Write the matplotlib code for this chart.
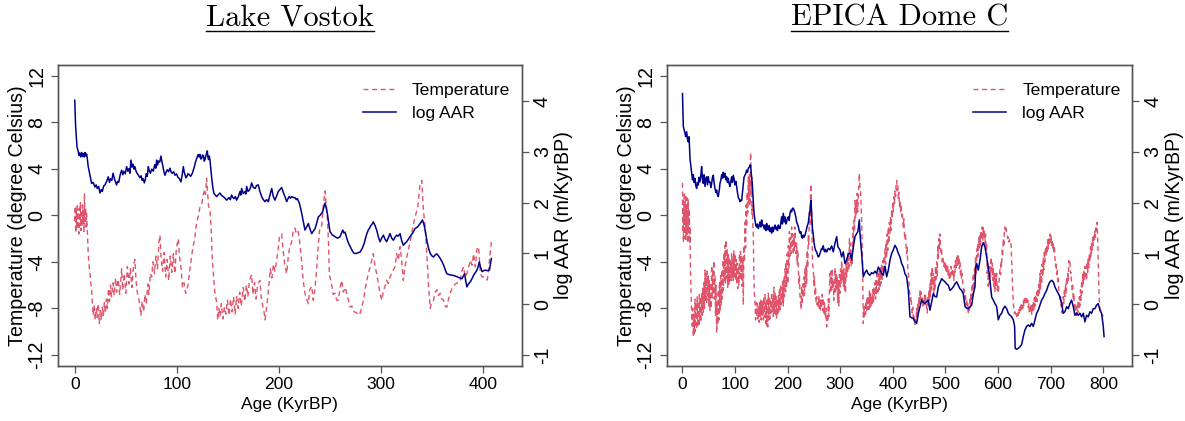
import matplotlib
matplotlib.use("Agg")
import matplotlib.pyplot as plt
from matplotlib.lines import Line2D

# ---------------- data (age in KyrBP) ----------------
vostok_temperature = [
    (0, -0.5), (0.5, 0.8), (1, -1.5), (1.5, 0.5), (2, -1.2), (2.5, 1.0), (3, -0.8), (3.5, 0.3),
    (4, -1.6), (4.5, 0.6), (5, -0.9), (5.5, 1.1), (6, -1.3), (6.5, 0.2), (7, -1.0), (7.5, 0.9),
    (8, -0.7), (8.5, 0.4), (9, -1.4), (9.5, 1.9), (10, -0.5), (10.5, 0.7), (11, -1.0), (11.5, 0.3),
    (12, -0.6), (13.2, -3.3), (13.8, -4.1), (14.9, -5.0), (16.5, -6.5), (17.2, -7.5), (18.1, -8.6),
    (19, -7.8), (20, -9.0), (21, -8.0), (22, -8.8), (23, -7.6), (24, -9.3), (25, -8.2), (26, -9.0),
    (27, -7.9), (28, -8.6), (29, -7.5), (30, -8.4), (31, -7.2), (32, -8.0), (33, -6.3), (34, -7.4),
    (35, -6.0), (36, -7.0), (37.5, -5.8), (38.5, -6.9), (40, -5.4), (41, -6.6), (42.5, -5.5),
    (44, -6.8), (45.9, -4.6), (47, -6.4), (48.5, -5.0), (50, -6.7), (51.5, -4.4), (53, -5.9),
    (54.5, -4.6), (56, -6.2), (57.5, -4.3), (58.9, -3.8), (60, -5.6), (61, -6.5), (62.2, -7.0),
    (63.5, -7.6), (64.8, -8.6), (66, -7.4), (67.5, -8.3), (68.7, -6.8), (70, -7.6), (71.5, -5.9),
    (72.5, -6.8), (74, -5.0), (75.3, -5.3), (76.5, -4.0), (78, -5.0), (79.5, -3.5), (81, -4.6),
    (82.5, -2.2), (83.4, -1.7), (84.5, -3.6), (86, -4.8), (87.5, -3.2), (89, -5.3), (90.5, -3.8),
    (92, -5.6), (93.5, -3.5), (95, -4.9), (96.5, -3.3), (98, -5.0), (99.5, -2.8), (101.4, -2.0),
    (102.5, -3.5), (104, -4.5), (105.5, -6.2), (107, -5.8), (108.5, -6.7), (109.6, -6.5),
    (111, -5.9), (112.5, -4.8), (114.4, -3.5), (116, -2.6), (117.5, -2.0), (119, -0.8),
    (120.5, -0.2), (122.6, 0.7), (124.2, 0.9), (125.5, 1.6), (127, 2.2), (128, 1.8), (129.1, 3.2),
    (130, 2.0), (131, 0.8), (132.4, 0.4), (133.5, -1.0), (134.5, -3.5), (135.7, -5.0), (137, -6.5),
    (138.9, -7.5), (140, -9.0), (141, -8.0), (142.2, -8.7), (143.5, -7.6), (145, -8.9),
    (146.5, -7.9), (148, -8.5), (149.5, -7.3), (151, -8.6), (152.5, -7.2), (154, -8.3),
    (155.5, -7.0), (157, -8.5), (158.5, -7.0), (160, -8.0), (161.5, -6.6), (163, -7.8),
    (165, -6.2), (166.5, -7.4), (168, -6.0), (169.5, -7.0), (171, -5.6), (173.2, -5.1),
    (174.5, -6.8), (176, -5.8), (177.5, -7.2), (179, -6.0), (181.3, -5.6), (182.5, -7.0),
    (184, -7.8), (185.5, -8.4), (186.3, -9.0), (187.5, -8.2), (189, -7.0), (190.5, -5.6),
    (191.5, -4.6), (193, -5.4), (194.5, -4.2), (196, -4.8), (197.6, -3.9), (199, -3.0),
    (200.5, -1.8), (202.6, -1.6), (204, -3.0), (205.8, -4.4), (207.5, -5.0), (209, -3.6),
    (210.5, -2.7), (212.4, -2.3), (214, -1.3), (215.6, -1.1), (217, -1.6), (218.9, -1.4),
    (220.5, -2.5), (222.2, -4.0), (223.5, -5.5), (225.4, -6.7), (227, -7.2), (228.7, -7.6),
    (230, -6.4), (232, -6.1), (233.5, -7.3), (235.3, -6.2), (237, -4.4), (238.5, -2.5),
    (240, -1.0), (241.8, -0.9), (243.5, 1.0), (245.1, 2.1), (246, 1.0), (247.3, -0.1),
    (248.5, -2.5), (249.3, -5.1), (251.6, -6.0), (253, -6.8), (254.8, -6.7), (256.5, -7.3),
    (258.1, -7.3), (259.8, -6.2), (261.4, -5.6), (263, -6.6), (264.7, -6.2), (266.3, -6.7),
    (268, -7.3), (269.6, -7.9), (271.2, -7.8), (273.6, -8.3), (276.2, -8.4), (278, -8.6),
    (279.5, -8.4), (281, -7.9), (282.7, -7.3), (284.2, -6.4), (286, -5.6), (287.4, -5.0),
    (289.3, -4.4), (290.7, -3.9), (292.3, -3.3), (294, -4.4), (295.6, -5.0), (297.2, -5.85),
    (298.9, -6.7), (300.5, -7.3), (302.2, -6.5), (303.8, -6.1), (305.4, -5.6), (307, -5.85),
    (308.7, -5.3), (310.3, -5.0), (312, -4.7), (313.6, -4.4), (315.2, -3.3), (316.8, -3.86),
    (318.5, -2.7), (320.1, -3.86), (321.7, -5.6), (323.4, -4.4), (325, -3.6), (326.6, -3.0),
    (328.3, -2.3), (329.9, -1.6), (331.5, -0.8), (333.2, -0.14), (335.8, 0.7), (338.1, 2.7),
    (339.8, 3.0), (341.4, 0.4), (343.1, -1.0), (344.7, -3.3), (346.4, -6.1), (348, -8.0),
    (349.5, -7.5), (351.3, -7.3), (353, -6.6), (354.5, -6.4), (356, -6.9), (357.8, -6.7),
    (359.5, -7.2), (361.1, -7.3), (362.5, -7.8), (364.3, -7.9), (366, -7.2), (367.6, -6.7),
    (369.3, -6.3), (370.9, -6.1), (372.5, -5.9), (374.2, -5.85), (375.8, -5.6), (377.4, -5.57),
    (379, -4.8), (380.7, -4.43), (382.3, -5.3), (384, -5.0), (385.5, -4.5), (387.3, -3.86),
    (389, -4.3), (390.5, -3.3), (392.2, -4.43), (393.8, -2.9), (395.4, -2.7), (397.1, -5.0),
    (398.7, -5.3), (400.4, -5.28), (402, -5.4), (403.7, -5.57), (405, -5.0), (406, -3.86),
    (407.9, -2.3),
]

vostok_log_aar = [
    (0, 4.02), (0.85, 3.50), (2.2, 3.10), (3.5, 3.0), (4.2, 2.93), (5, 2.98), (5.9, 2.90),
    (6.8, 2.99), (7.6, 2.91), (8.5, 2.97), (9.3, 2.90), (10, 2.99), (10.8, 2.92), (11.6, 2.96),
    (12.4, 2.85), (13.2, 2.71), (14.8, 2.55), (16.5, 2.38), (18, 2.40), (19.8, 2.31), (21, 2.35),
    (22, 2.28), (23.4, 2.32), (24.7, 2.19), (26, 2.26), (27, 2.22), (28.3, 2.33), (29.6, 2.35),
    (31.2, 2.42), (32.8, 2.51), (34, 2.40), (35, 2.47), (36.3, 2.44), (37.5, 2.58), (39.2, 2.45),
    (40.9, 2.35), (42, 2.42), (43, 2.40), (44.5, 2.55), (45.9, 2.64), (47, 2.55), (48, 2.62),
    (49.4, 2.57), (50.8, 2.71), (52, 2.62), (53, 2.67), (54, 2.58), (55, 2.84), (56, 2.70),
    (57, 2.76), (58, 2.66), (58.9, 2.71), (60, 2.62), (61, 2.58), (62.4, 2.54), (63.8, 2.49),
    (65, 2.53), (66, 2.44), (67, 2.47), (68.1, 2.39), (69, 2.45), (70, 2.57), (71, 2.52),
    (72, 2.71), (73, 2.63), (74, 2.58), (75.4, 2.66), (76.9, 2.62), (77.7, 2.70), (78.5, 2.75),
    (79.4, 2.68), (80.2, 2.84), (81.1, 2.74), (82, 2.82), (83.2, 2.80), (84.4, 2.92), (85.2, 2.82),
    (86, 2.75), (87.2, 2.62), (88.3, 2.54), (89.4, 2.60), (90.5, 2.65), (91.8, 2.61), (93.2, 2.68),
    (94.4, 2.60), (95.5, 2.58), (96.8, 2.61), (98.1, 2.54), (99.5, 2.57), (101, 2.50),
    (102.5, 2.47), (104, 2.41), (105.2, 2.55), (106.3, 2.71), (107.2, 2.60), (108, 2.55),
    (108.8, 2.49), (109.6, 2.51), (110.8, 2.57), (112, 2.55), (113.5, 2.52), (115.1, 2.58),
    (116, 2.64), (117, 2.70), (118.2, 2.80), (119.4, 2.87), (120.2, 2.92), (121, 2.95),
    (121.8, 2.90), (122.6, 2.95), (123.4, 2.86), (124.2, 2.87), (125.1, 2.94), (126, 2.92),
    (126.8, 2.82), (127.5, 2.85), (128.7, 2.95), (129.8, 3.02), (130.4, 2.90), (131, 2.85),
    (131.7, 2.92), (132.4, 2.84), (134, 2.5), (135.2, 2.30), (136.3, 2.18), (137.6, 2.15),
    (138.9, 2.12), (140.6, 2.16), (142.2, 2.19), (143.8, 2.14), (145.4, 2.12), (147, 2.09),
    (148.7, 2.05), (150, 2.08), (151, 2.10), (152.3, 2.06), (153.6, 2.15), (154.8, 2.10),
    (156, 2.08), (157.3, 2.12), (158.5, 2.05), (160.2, 2.12), (161.8, 2.22), (162.6, 2.15),
    (163.4, 2.28), (165, 2.18), (166.7, 2.22), (167.5, 2.17), (168.3, 2.32), (169.6, 2.22),
    (171, 2.25), (172.1, 2.30), (173.2, 2.39), (174.8, 2.30), (176.5, 2.28), (178.1, 2.34),
    (179.7, 2.35), (181.3, 2.22), (183, 2.12), (184.6, 2.06), (186.3, 2.02), (188, 2.06),
    (189.5, 2.02), (191.2, 2.15), (192.8, 2.28), (194.4, 2.12), (196, 2.05), (197.6, 2.13),
    (199.3, 2.22), (201, 2.26), (202.6, 2.30), (204.2, 2.20), (205.8, 2.12), (207.5, 2.02),
    (208.8, 2.08), (210, 2.12), (211.2, 2.09), (212.4, 2.12), (214, 2.10), (215.6, 2.10),
    (217, 2.06), (218, 2.08), (219.9, 1.99), (221, 1.90), (222.2, 1.79), (223.8, 1.62),
    (225.4, 1.46), (227, 1.52), (228.7, 1.59), (230.3, 1.48), (232, 1.39), (233.6, 1.44),
    (235.3, 1.49), (236.9, 1.60), (238.5, 1.72), (240.6, 1.76), (242.7, 1.82), (244, 1.92),
    (245.1, 1.99), (246.2, 1.90), (247.3, 1.79), (248.6, 1.60), (249.9, 1.43), (252.3, 1.36),
    (254.8, 1.33), (257.3, 1.30), (259.8, 1.33), (261.1, 1.40), (262.4, 1.46), (263.6, 1.40),
    (264.7, 1.42), (266.3, 1.30), (268, 1.20), (269.5, 1.14), (271, 1.08), (272.3, 1.03),
    (273.6, 1.0), (276, 1.0), (279.5, 1.03), (281.5, 1.10), (283.4, 1.20), (284.7, 1.30),
    (286, 1.39), (287.4, 1.46), (288.7, 1.50), (290, 1.55), (291.2, 1.58), (292.3, 1.62),
    (294, 1.55), (295.6, 1.46), (297.2, 1.33), (298.9, 1.23), (300.5, 1.30), (302.2, 1.36),
    (303.8, 1.28), (305.4, 1.23), (307, 1.31), (308.7, 1.39), (310.3, 1.30), (312, 1.26),
    (313.6, 1.32), (315.2, 1.36), (316.8, 1.34), (318.5, 1.39), (320.1, 1.25), (321.7, 1.16),
    (323.4, 1.20), (325, 1.23), (326.6, 1.28), (328.3, 1.33), (330.8, 1.40), (333.2, 1.49),
    (335.6, 1.52), (338.1, 1.59), (339.3, 1.62), (340.4, 1.66), (341.4, 1.60), (342.4, 1.53),
    (343.5, 1.40), (344.7, 1.26), (346.4, 1.10), (348, 1.0), (349.7, 0.95), (351.3, 0.93),
    (352.9, 0.97), (354.5, 0.99), (356.2, 0.95), (357.8, 0.90), (359.5, 0.84), (361.1, 0.77),
    (362.7, 0.68), (364.3, 0.60), (366.8, 0.58), (369.3, 0.57), (371.8, 0.56), (374.2, 0.54),
    (376.7, 0.52), (379.1, 0.50), (380.4, 0.55), (381.7, 0.60), (382.8, 0.46), (384, 0.34),
    (385.6, 0.40), (387.3, 0.44), (388.9, 0.50), (390.5, 0.57), (392.2, 0.62), (393.8, 0.67),
    (395, 0.74), (396.1, 0.83), (397.4, 0.72), (398.7, 0.64), (400.4, 0.66), (402, 0.67),
    (404, 0.66), (406, 0.67), (407.9, 0.90),
]

epica_temperature = [
    (0, 2.8), (0.6, -1.5), (1.2, 1.5), (1.8, -2.3), (2.4, 0.5), (3, -1.0), (3.6, 2.0), (4.2, -2.0),
    (4.8, 1.2), (5.4, -0.8), (6, 1.8), (6.6, -2.1), (7.2, 0.8), (7.8, -1.2), (8.4, 1.5), (9, -1.8),
    (9.6, 0.9), (10.2, -2.4), (10.8, 1.4), (11.4, -1.5), (12, 0.6), (12.6, -2.0), (13.2, 0.2),
    (13.8, -2.5), (14.3, -1.0), (15, -4.5), (15.8, -5.6), (16.5, -7.0), (17.4, -8.1),
    (18.5, -9.5), (19.5, -8.0), (20.6, -10.4), (21.5, -8.5), (22.5, -10.2), (23.8, -7.2),
    (24.5, -10.0), (25.5, -7.5), (26.9, -9.8), (28, -7.0), (29, -9.5), (30.1, -7.4), (31, -9.6),
    (32, -6.8), (33.3, -9.2), (34.5, -7.0), (35.5, -9.0), (36.4, -6.6), (37.5, -8.6), (38.5, -6.2),
    (39.6, -8.4), (40.5, -5.8), (41.8, -8.0), (42.8, -4.7), (44, -7.3), (45, -5.0), (46, -7.6),
    (47, -4.8), (48.2, -6.9), (49.1, -5.2), (50, -7.8), (51, -5.6), (52.3, -8.2), (53.5, -5.8),
    (54.5, -8.0), (55.5, -4.3), (56.5, -7.1), (57.5, -4.6), (58.6, -6.8), (59.5, -3.9),
    (60.5, -7.2), (61.8, -5.2), (62.8, -8.6), (63.8, -6.0), (65, -10.1), (66, -7.5), (67, -9.4),
    (68.1, -6.4), (69.2, -9.0), (70.3, -5.8), (71.3, -8.3), (72.5, -5.2), (73.6, -7.8),
    (74.5, -4.7), (75.6, -7.2), (76.6, -3.8), (77.6, -6.5), (78.8, -3.2), (79.8, -5.6),
    (80.8, -2.6), (81.8, -5.9), (83, -2.1), (84, -5.4), (85, -2.9), (86, -6.2), (87.1, -3.3),
    (88.2, -6.0), (89.2, -3.6), (90.3, -5.7), (91.3, -3.9), (92.4, -5.6), (93.5, -3.2),
    (94.5, -5.3), (95.5, -3.6), (96.6, -5.6), (97.6, -3.0), (98.7, -5.3), (99.8, -3.3),
    (101, -5.6), (102, -3.8), (103, -5.8), (104, -4.1), (105, -6.3), (106.1, -4.4), (107.2, -6.0),
    (108.3, -3.3), (109.3, -5.6), (110.4, -3.1), (111.5, -5.3), (112.5, -3.4), (113.5, -6.1),
    (114.5, -3.7), (115.7, -7.7), (116.8, -2.6), (117.8, -4.0), (118.8, -0.6), (120, -2.8),
    (121, 0.9), (122, -1.0), (123, 2.0), (124, 0.2), (125.2, 3.3), (126.2, 1.0), (127.2, 3.5),
    (128.3, 0.8), (129, 4.6), (129.6, 5.4), (130.3, 2.0), (131.5, 3.3), (132.2, 0.1), (133, 1.0),
    (134, -1.3), (134.7, -1.6), (135.5, -4.5), (136.5, -6.6), (137.8, -7.3), (139, -9.0),
    (140, -7.5), (141, -8.7), (142.2, -7.6), (143.2, -8.9), (144.2, -7.9), (145.5, -9.2),
    (146.5, -7.5), (147.5, -8.7), (148.6, -7.3), (149.6, -9.0), (150.5, -7.3), (151.5, -8.6),
    (152.6, -7.4), (153.7, -9.0), (154.8, -7.0), (155.8, -8.8), (156.9, -6.8), (158, -9.3),
    (159, -7.5), (160, -9.5), (161, -7.1), (162.2, -9.6), (163.2, -6.7), (164.3, -9.0),
    (165.3, -7.0), (166.4, -8.9), (167.5, -7.2), (168.5, -8.4), (169.5, -6.6), (170.5, -8.3),
    (171.6, -7.0), (172.7, -8.7), (173.8, -6.2), (174.8, -8.4), (175.9, -6.6), (177, -8.7),
    (178, -7.0), (179, -8.9), (180, -7.2), (181.2, -8.6), (182.2, -6.9), (183.3, -8.3),
    (184.3, -6.3), (185.4, -8.1), (186.4, -6.0), (187.5, -7.7), (188.5, -6.2), (189.5, -7.5),
    (190.6, -5.6), (191.7, -7.8), (192.8, -5.3), (193.8, -7.0), (194.9, -4.6), (196, -6.6),
    (197, -4.0), (198, -6.1), (199.1, -3.3), (200.2, -5.9), (201.2, -2.6), (202.3, -4.6),
    (203.3, -1.4), (204.4, -3.5), (205.4, -1.9), (206.5, -3.3), (207.5, -1.0), (208.6, -2.8),
    (209.6, -1.6), (210.7, -3.4), (211.8, -1.8), (212.8, -3.0), (213.9, -1.0), (215, -2.3),
    (216, -3.3), (217, -2.4), (218.1, -4.2), (219.1, -3.0), (220.2, -4.4), (221.3, -6.0),
    (222.3, -5.1), (223.4, -7.0), (224.4, -7.5), (225.5, -8.1), (226.5, -6.1), (227.6, -7.7),
    (228.6, -5.9), (229.7, -7.1), (230.8, -5.3), (231.8, -6.9), (232.9, -4.6), (234, -6.3),
    (235, -4.2), (236, -5.9), (237.1, -3.0), (238.1, -4.5), (239.2, -1.8), (240.2, -2.5),
    (241.3, 0.3), (242.4, -0.9), (243.4, 1.5), (244.3, 2.7), (245, 0.7), (246, -0.9),
    (247, -3.5), (247.6, -4.4), (248.7, -4.5), (249.8, -6.0), (250.8, -5.3), (251.9, -6.9),
    (253, -6.1), (254, -7.5), (255.1, -7.0), (256.1, -7.7), (257.2, -7.3), (258.2, -7.9),
    (259.3, -6.9), (260.3, -8.0), (261.4, -7.3), (262.5, -8.2), (263.5, -7.2), (264.6, -7.9),
    (265.6, -6.8), (266.7, -8.2), (267.8, -7.1), (268.8, -8.5), (269.9, -7.5), (270.9, -8.4),
    (272, -8.9), (273, -8.0), (274.1, -9.6), (275.2, -8.5), (276.2, -9.2), (277.3, -7.2),
    (278.3, -8.7), (279.4, -6.4), (280.4, -5.0), (281.5, -6.7), (282.5, -4.8), (283.6, -6.4),
    (284.6, -4.6), (285.7, -6.2), (286.7, -5.6), (287.8, -7.3), (288.8, -5.8), (289.9, -4.5),
    (291, -6.7), (292, -5.1), (293.1, -6.3), (294.1, -5.3), (295.2, -7.5), (296.2, -5.6),
    (297.3, -7.8), (298.3, -5.1), (299.4, -6.7), (300.5, -4.6), (301.5, -5.9), (302.6, -3.9),
    (303.6, -5.6), (304.7, -4.7), (305.8, -6.1), (306.8, -4.6), (307.9, -6.4), (308.9, -5.0),
    (310, -6.7), (311, -4.2), (312.1, -5.3), (313.1, -3.6), (314.2, -4.9), (315.3, -3.2),
    (316.3, -4.7), (317.4, -2.0), (318.5, -3.2), (319.5, -2.4), (320.6, -4.4), (321.6, -3.3),
    (322.7, -4.3), (323.7, -1.0), (324.8, -3.0), (325.9, -0.4), (327, -1.4), (328, 1.3),
    (329, -0.3), (330, 1.2), (331.1, 0.2), (332.2, 1.9), (333.2, 0.3), (334.3, 1.7), (335.3, 2.5),
    (336.2, 3.6), (337.2, 2.6), (338.7, 1.9), (340.6, -0.4), (342.5, -4.4), (343.8, -9.3),
    (345, -8.0), (346, -8.7), (347, -7.8), (348, -8.5), (349, -7.4), (350.1, -8.3), (351.2, -7.0),
    (352.2, -8.1), (353.3, -6.9), (354.4, -8.1), (355.4, -6.5), (356.5, -7.9), (357.5, -6.7),
    (358.6, -7.8), (359.6, -7.0), (360.7, -7.6), (361.7, -6.4), (362.8, -7.6), (363.9, -6.2),
    (364.9, -7.0), (366, -5.8), (367, -7.2), (368.1, -5.6), (369.2, -6.8), (370.2, -5.1),
    (371.3, -6.6), (372.3, -5.0), (373.4, -6.4), (374.4, -4.8), (375.5, -6.1), (376.6, -4.5),
    (377.6, -5.9), (378.7, -4.3), (379.7, -5.5), (380.8, -3.9), (381.8, -5.0), (382.9, -3.5),
    (384, -4.6), (385, -2.9), (386.1, -4.2), (387.1, -2.3), (388.2, -3.6), (389.2, -1.6),
    (390.3, -3.0), (391.3, -1.0), (392.4, -2.4), (393.4, -0.6), (394.5, -1.6), (395.6, -0.1),
    (396.6, -1.3), (397.7, 0.5), (398.7, -0.3), (399.8, 1.0), (400.9, 0.3), (401.9, 1.6),
    (403, 1.0), (404, 2.1), (405.1, 1.6), (406.2, 2.6), (407.2, 3.0), (408.3, 2.1), (409.3, 2.6),
    (410.4, 1.4), (411.4, 2.0), (412.5, 0.8), (413.5, 1.3), (414.6, 0.3), (415.7, 0.9),
    (416.7, -0.1), (417.8, 0.3), (418.8, -0.6), (419.9, -1.0), (420.9, -0.3), (422, -1.6),
    (423, -2.1), (424.1, -1.5), (425.2, -3.0), (426.2, -3.3), (427.3, -2.7), (428.3, -4.6),
    (429.4, -5.0), (430.4, -5.6), (431.5, -6.5), (432.5, -6.9), (433.6, -7.3), (434.7, -7.0),
    (435.7, -8.0), (436.8, -8.4), (437.8, -7.9), (438.9, -8.9), (440, -8.6), (441, -9.3),
    (442, -9.4), (443.1, -8.8), (444.1, -9.2), (445.2, -8.0), (446.3, -8.8), (447.3, -7.5),
    (448.4, -8.4), (449.4, -7.0), (450.5, -7.7), (451.6, -6.5), (452.6, -7.2), (453.7, -6.6),
    (454.7, -7.4), (455.8, -7.0), (456.8, -7.8), (457.9, -7.2), (459, -7.8), (460, -6.8),
    (461.1, -7.6), (462.1, -6.9), (463.2, -7.6), (464.2, -7.9), (465.3, -8.4), (466.3, -7.0),
    (467.4, -7.8), (468.5, -6.4), (469.5, -7.3), (470.5, -5.9), (471.6, -7.0), (472.7, -5.0),
    (473.7, -6.4), (474.8, -4.4), (475.8, -6.0), (476.9, -5.0), (477.9, -6.7), (479, -5.3),
    (480, -6.4), (481, -4.4), (482.1, -5.5), (483.2, -4.0), (484.3, -5.3), (485.3, -2.6),
    (486.4, -3.7), (487.4, -2.0), (488.5, -2.9), (489.5, -1.6), (490.6, -2.7), (491.6, -3.3),
    (492.7, -3.0), (493.8, -4.0), (494.8, -3.6), (495.9, -3.9), (497, -4.4), (498, -3.9),
    (499, -4.7), (500.1, -4.1), (501.2, -4.9), (502.2, -4.2), (503.3, -5.0), (504.4, -4.4),
    (505.4, -5.3), (506.5, -4.7), (507.5, -5.6), (508.6, -5.0), (509.6, -5.3), (510.7, -4.4),
    (511.8, -5.1), (512.8, -4.6), (513.9, -5.3), (514.9, -4.8), (516, -5.6), (517, -4.3),
    (518.1, -4.9), (519.2, -3.9), (520.2, -4.5), (521.3, -3.6), (522.3, -4.3), (523.4, -3.3),
    (524.4, -4.2), (525.5, -3.6), (526.5, -4.6), (527.6, -4.0), (528.7, -5.3), (529.7, -4.7),
    (530.7, -5.5), (531.8, -5.0), (532.9, -5.9), (533.9, -6.1), (535, -6.8), (536, -6.4),
    (537.1, -7.3), (538.2, -6.9), (539.2, -7.7), (540.3, -7.2), (541.3, -8.0), (542.4, -7.6),
    (543.4, -8.5), (544.5, -7.8), (545.5, -8.2), (546.6, -7.0), (547.6, -7.9), (548.7, -6.6),
    (549.8, -7.4), (550.8, -5.9), (551.9, -6.9), (552.9, -5.0), (554, -6.4), (555, -4.6),
    (556.1, -5.4), (557.1, -3.6), (558.2, -5.0), (559.3, -2.9), (560.3, -3.6), (561.4, -2.4),
    (562.4, -3.5), (563.5, -1.9), (564.5, -2.9), (565.6, -1.6), (566.7, -2.6), (567.7, -1.3),
    (568.8, -2.1), (569.8, -1.0), (570.9, -2.2), (571.9, -1.0), (573, -1.9), (574, -1.3),
    (575.1, -2.4), (576.1, -1.6), (577.2, -3.0), (578.3, -2.4), (579.3, -5.0), (580.4, -4.1),
    (581.4, -6.1), (582.5, -4.9), (583.6, -5.9), (584.6, -4.4), (585.7, -5.3), (586.7, -3.6),
    (587.8, -4.7), (588.8, -4.1), (589.9, -5.6), (590.9, -4.4), (592, -6.1), (593, -4.9),
    (594.1, -6.6), (595.2, -5.0), (596.2, -6.1), (597.3, -5.0), (598.3, -6.4), (599.4, -5.9),
    (600.4, -6.7), (601.5, -5.9), (602.5, -5.4), (603.6, -4.6), (604.6, -5.1), (605.7, -3.9),
    (606.8, -4.4), (607.8, -3.0), (608.9, -3.4), (609.9, -2.0), (611, -2.7), (612, -1.3),
    (613.1, -1.0), (614.2, -1.4), (615.2, -1.1), (616.3, -1.5), (617.3, -1.6), (618.4, -2.0),
    (619.4, -1.9), (620.5, -2.3), (621.5, -2.1), (622.6, -2.4), (623.6, -2.3), (624.7, -2.5),
    (625.8, -3.8), (626.8, -5.3), (627.9, -6.5), (628.9, -7.5), (630, -8.1), (631, -8.4),
    (632.1, -8.3), (633.2, -8.6), (634.2, -8.4), (635.3, -8.7), (636.3, -8.5), (637.4, -8.3),
    (638.4, -8.6), (639.5, -8.1), (640.5, -8.4), (641.6, -7.9), (642.7, -8.3), (643.7, -7.7),
    (644.8, -8.1), (645.8, -7.6), (646.9, -8.0), (647.9, -7.4), (649, -7.8), (650, -7.2),
    (651.1, -7.6), (652.2, -7.0), (653.2, -7.5), (654.3, -7.1), (655.3, -7.7), (656.4, -7.3),
    (657.4, -7.9), (658.5, -7.6), (659.5, -8.3), (660.6, -7.9), (661.7, -8.4), (662.7, -7.6),
    (663.8, -8.5), (664.8, -7.7), (665.9, -8.3), (666.9, -7.5), (668, -8.2), (669, -7.1),
    (670.1, -7.8), (671.2, -6.8), (672.2, -7.6), (673.3, -6.6), (674.3, -7.4), (675.4, -6.3),
    (676.4, -7.1), (677.5, -5.9), (678.5, -6.8), (679.6, -5.0), (680.6, -6.4), (681.7, -4.7),
    (682.8, -5.9), (683.8, -4.2), (684.9, -5.3), (685.9, -3.6), (687, -4.7), (688, -3.0),
    (689.1, -4.0), (690.2, -2.7), (691.2, -3.5), (692.3, -2.7), (693.3, -3.3), (694.4, -2.1),
    (695.4, -2.9), (696.5, -1.9), (697.5, -2.6), (698.6, -1.6), (699.6, -2.3), (700.7, -1.7),
    (701.8, -2.6), (702.8, -2.1), (703.9, -2.9), (704.9, -2.4), (706, -3.3), (707, -2.6),
    (708.1, -3.6), (709.2, -4.4), (710.2, -4.0), (711.3, -5.1), (712.3, -4.6), (713.4, -5.7),
    (714.4, -5.3), (715.5, -6.4), (716.5, -6.7), (717.6, -7.3), (718.7, -7.0), (719.7, -7.8),
    (720.8, -7.3), (721.8, -8.4), (722.9, -7.7), (723.9, -7.0), (725, -7.6), (726, -6.4),
    (727.1, -7.0), (728.2, -5.9), (729.2, -6.7), (730.3, -5.3), (731.3, -6.0), (732.4, -5.0),
    (733.5, -5.6), (734.5, -3.9), (735.6, -4.2), (736.6, -4.0), (737.7, -5.0), (738.7, -4.9),
    (739.8, -5.9), (740.8, -6.4), (741.9, -6.0), (743, -7.3), (744, -6.7), (745.1, -7.9),
    (746.1, -7.5), (747.2, -8.3), (748.2, -7.9), (749.3, -8.6), (750.3, -7.8), (751.4, -8.4),
    (752.5, -7.3), (753.5, -8.1), (754.6, -7.0), (755.6, -7.8), (756.7, -6.4), (757.7, -7.3),
    (758.8, -5.6), (759.8, -6.7), (760.9, -5.0), (762, -6.0), (763, -4.8), (764.1, -5.6),
    (765.1, -4.4), (766.2, -5.2), (767.2, -4.9), (768.3, -5.6), (769.3, -4.0), (770.4, -4.9),
    (771.5, -3.6), (772.5, -4.5), (773.6, -3.3), (774.6, -4.0), (775.7, -2.7), (776.7, -3.6),
    (777.8, -2.4), (778.8, -3.0), (779.9, -1.9), (781, -2.6), (782, -1.6), (783.1, -2.1),
    (784.1, -1.3), (785.2, -1.9), (786.2, -0.9), (787.3, -1.3), (788.3, -0.6), (789.4, -2.0),
    (790.5, -4.0), (791.5, -6.1), (792.6, -7.4), (793.6, -8.0), (794.7, -8.1), (795.7, -8.3),
    (796.8, -8.4), (797.8, -8.6), (798.9, -8.6), (800, -8.7),
]

epica_log_aar = [
    (0, 4.15), (1.6, 3.50), (4.8, 3.37), (6, 3.30), (7.9, 3.40), (9.5, 3.25), (11.1, 3.20),
    (12.5, 3.30), (14.3, 2.87), (17.4, 2.58), (19, 2.45), (20.6, 2.55), (22, 2.40), (23.8, 2.48),
    (25, 2.35), (26.9, 2.28), (28.5, 2.40), (30.1, 2.35), (31.5, 2.50), (33.3, 2.41), (35, 2.55),
    (36.4, 2.71), (38, 2.45), (39.6, 2.38), (41, 2.55), (42.8, 2.32), (44.5, 2.48), (46, 2.51),
    (47.5, 2.35), (49.1, 2.51), (50.5, 2.40), (52.3, 2.41), (54, 2.30), (55.5, 2.38), (57, 2.50),
    (58.6, 2.54), (60, 2.40), (61.8, 2.28), (63.5, 2.20), (65, 2.25), (66.5, 2.15), (68.1, 2.12),
    (70, 2.25), (71.3, 2.38), (73, 2.45), (74.5, 2.55), (76, 2.48), (77.6, 2.60), (79, 2.50),
    (80.8, 2.58), (82.5, 2.45), (84, 2.51), (85.5, 2.40), (87.1, 2.48), (88.5, 2.38), (90.3, 2.32),
    (92, 2.42), (93.5, 2.51), (95, 2.40), (96.6, 2.54), (98.5, 2.45), (99.8, 2.35), (101.5, 2.42),
    (103, 2.32), (104.5, 2.20), (106.1, 2.10), (107.5, 2.08), (109.3, 2.02), (110.5, 2.05),
    (112.5, 2.04), (114, 2.20), (115.7, 2.40), (117, 2.50), (118.8, 2.54), (120.5, 2.58),
    (122, 2.64), (123.5, 2.60), (125.2, 2.68), (127, 2.70), (128.3, 2.74), (129.6, 2.74),
    (131, 2.55), (132.7, 2.38), (134.7, 2.0), (136, 1.80), (137.8, 1.66), (139.5, 1.55),
    (141, 1.52), (142.5, 1.58), (144.2, 1.49), (146, 1.55), (147.4, 1.62), (149, 1.52),
    (150.5, 1.66), (152, 1.55), (153.7, 1.56), (155.3, 1.48), (156.9, 1.56), (158.5, 1.45),
    (160, 1.59), (161.5, 1.50), (163.2, 1.46), (165, 1.55), (166.4, 1.43), (168, 1.50),
    (169.5, 1.40), (171, 1.52), (172.7, 1.43), (174.3, 1.50), (175.9, 1.56), (177.5, 1.48),
    (179, 1.52), (180.5, 1.45), (182.2, 1.56), (183.8, 1.50), (185.4, 1.49), (187, 1.60),
    (188.5, 1.72), (190, 1.58), (191.7, 1.79), (193.3, 1.62), (194.9, 1.72), (196.5, 1.58),
    (198, 1.62), (199.5, 1.70), (201.2, 1.72), (202.8, 1.65), (204.4, 1.79), (206, 1.85),
    (207.5, 1.82), (209, 1.89), (210.7, 1.89), (212.3, 1.85), (213.9, 1.79), (215.5, 1.72),
    (217, 1.62), (218.5, 1.58), (220.2, 1.53), (221.8, 1.45), (223.4, 1.40), (225, 1.43),
    (226.5, 1.33), (228, 1.30), (229.7, 1.36), (231.3, 1.32), (232.9, 1.36), (234.5, 1.42),
    (236, 1.49), (237.5, 1.55), (239.2, 1.60), (240.5, 1.72), (242.4, 1.85), (244.3, 2.05),
    (245.6, 1.80), (247, 1.50), (248.7, 1.36), (250.3, 1.20), (251.9, 1.10), (253.5, 1.05),
    (255.1, 1.03), (256.7, 0.97), (258.2, 0.93), (259.8, 0.95), (261.4, 1.00), (263, 1.05),
    (264.6, 1.10), (266.2, 1.08), (267.7, 1.15), (269.3, 1.05), (270.9, 1.03), (272, 1.08),
    (274.1, 1.03), (277.3, 1.10), (280.4, 1.07), (283.6, 1.15), (286.7, 1.03), (289.9, 1.20),
    (293.1, 1.33), (295.5, 1.13), (299.4, 1.07), (302.6, 0.93), (305.8, 1.03), (308.9, 0.80),
    (312.1, 0.87), (315.3, 1.0), (318.5, 1.0), (321.6, 0.87), (324.8, 1.13), (328, 1.33),
    (331.1, 1.39), (333.5, 1.43), (336.2, 1.66), (337.5, 1.39), (340.6, 1.0), (343.8, 0.54),
    (347, 0.62), (350.1, 0.67), (353, 0.60), (356.5, 0.57), (359.5, 0.62), (362.8, 0.60),
    (366, 0.65), (369.2, 0.60), (372.3, 0.73), (375.5, 0.67), (378.7, 0.60), (381.8, 0.57),
    (385, 0.75), (388.2, 0.54), (391.3, 0.67), (394.5, 0.87), (397.7, 1.0), (400.9, 1.07),
    (404, 1.16), (407.2, 1.10), (410.4, 1.0), (413.5, 0.93), (416.7, 0.80), (419.9, 0.73),
    (423, 0.60), (426.2, 0.54), (429.4, 0.27), (432.5, -0.25), (435.7, -0.27), (438.9, -0.28),
    (442, -0.35), (445.2, -0.38), (448.4, -0.18), (451.6, -0.05), (454.7, 0.08), (457.9, 0.03),
    (461.1, 0.01), (464.2, 0.05), (467.4, 0.08), (470.5, -0.12), (473.7, 0.05), (476.9, 0.21),
    (480, 0.15), (483.2, 0.14), (486.4, 0.34), (489.5, 0.42), (492.7, 0.50), (496, 0.47),
    (499, 0.44), (502.2, 0.40), (505.4, 0.37), (508.6, 0.27), (511.8, 0.30), (514.9, 0.34),
    (518, 0.40), (521.3, 0.44), (524.4, 0.37), (527.6, 0.30), (530.7, 0.27), (533.9, 0.20),
    (537.1, -0.05), (540.3, -0.08), (543.4, -0.09), (546.6, -0.05), (549.8, -0.02), (552.9, 0.20),
    (556.1, 0.34), (557.5, 0.73), (559.3, 0.80), (562.4, 0.67), (565.6, 0.87), (568.8, 1.13),
    (571.9, 1.21), (575.1, 1.13), (578.3, 0.93), (581.4, 0.73), (584.6, 0.47), (587.8, 0.14),
    (590.9, 0.08), (594.1, 0.01), (597.3, -0.05), (600.4, -0.31), (603.6, -0.22), (606.8, -0.18),
    (609.9, -0.09), (613.1, -0.04), (616.3, -0.09), (619.4, -0.18), (622.6, -0.22),
    (625.8, -0.25), (628.9, -0.31), (631.5, -0.44), (632.5, -0.87), (635.3, -0.89),
    (638.4, -0.87), (641.6, -0.84), (644.8, -0.80), (647.9, -0.64), (651.1, -0.51),
    (654.3, -0.44), (657.4, -0.41), (660.6, -0.44), (663.8, -0.38), (666.9, -0.44),
    (670.1, -0.31), (673.3, -0.18), (676.4, -0.12), (679.6, -0.02), (682.8, 0.08), (685.9, 0.13),
    (689.1, 0.21), (692.3, 0.27), (695.4, 0.37), (698.6, 0.44), (701.8, 0.47), (704.9, 0.44),
    (708.1, 0.34), (711.3, 0.27), (714.4, 0.21), (717.6, 0.14), (720.8, 0.01), (723.9, -0.18),
    (727.1, -0.15), (730.3, -0.05), (733.5, -0.09), (736.6, 0.01), (739.8, 0.08), (743, -0.05),
    (746.1, -0.22), (749.3, -0.18), (752.5, -0.22), (755.6, -0.18), (758.8, -0.25),
    (762, -0.18), (765.1, -0.35), (768.3, -0.22), (771.5, -0.25), (774.6, -0.15),
    (777.8, -0.18), (781, -0.09), (784.1, -0.09), (787.3, -0.02), (790.5, 0.01), (793.6, -0.12),
    (796.8, -0.18), (800, -0.44), (801.5, -0.64),
]

titles = ["Lake Vostok", "EPICA Dome C"]
legend_labels = ["Temperature", "log AAR"]
temp_ticks = [-12, -8, -4, 0, 4, 8, 12]
aar_ticks = [-1, 0, 1, 2, 3, 4]
vostok_xticks = [0, 100, 200, 300, 400]
epica_xticks = [0, 100, 200, 300, 400, 500, 600, 700, 800]
x_label = "Age (KyrBP)"
temp_label = "Temperature (degree Celsius)"
aar_label = "log AAR (m/KyrBP)"

# ---------------- styling ----------------
plt.rcParams['font.family'] = ['Liberation Sans', 'DejaVu Sans']
W, H = 1185, 421
PINK = '#DF536B'
BLUE = '#00008B'
FRAME = '#555555'
FS = 12.6      # horizontal text
FSV = 14.1     # vertical (rotated) text

fig = plt.figure(figsize=(W / 100, H / 100), dpi=100)


def box(x0, x1, y0, y1):
    return [x0 / W, 1 - y1 / H, (x1 - x0) / W, (y1 - y0) / H]


def panel(rect, temp, aar, xlim, xticks, title):
    x0, x1, y0, y1 = rect
    ax = fig.add_axes(box(x0, x1, y0, y1))
    ta, tv = zip(*temp)
    ax.plot(ta, tv, color=PINK, lw=1.0, dashes=(3.6, 2.6))
    ax.set_xlim(*xlim)
    ax.set_ylim(-12.96, 12.96)
    ax.set_xticks(xticks)
    ax.set_yticks(temp_ticks)
    ax.set_yticklabels([str(t) for t in temp_ticks], rotation=90, va='center',
                       fontsize=FSV)

    ax2 = ax.twinx()
    aa, av = zip(*aar)
    ax2.plot(aa, av, color=BLUE, lw=1.1)
    ax2.set_ylim(-1.22, 4.72)
    ax2.set_yticks(aar_ticks)
    ax2.set_yticklabels([str(t) for t in aar_ticks], rotation=90, va='center',
                        fontsize=FSV)

    for a in (ax, ax2):
        for s in a.spines.values():
            s.set_color(FRAME)
            s.set_linewidth(1.0)
        a.tick_params(direction='out', length=5, width=0.9, color=FRAME, pad=3)
    ax.tick_params(axis='x', labelsize=FS)

    handles = [Line2D([], [], color=PINK, lw=1.0, dashes=(3.6, 2.6)),
               Line2D([], [], color=BLUE, lw=1.1)]
    w = x1 - x0
    h = y1 - y0
    ax2.legend(handles, legend_labels, loc='upper left',
               bbox_to_anchor=((x1 - 159 - x0) / w, (y1 - 83) / h),
               frameon=False, borderpad=0, borderaxespad=0,
               handlelength=1.9, handletextpad=0.9, labelspacing=0.45,
               fontsize=FS)

    cx = (x0 + x1) / 2
    fig.text(cx / W, 1 - 405 / H, x_label, ha='center', va='center', fontsize=FS)
    fig.text((x0 - 40.5) / W, 1 - ((y0 + y1) / 2) / H, temp_label, rotation=90,
             ha='center', va='center', fontsize=FSV)
    fig.text((x1 + 42) / W, 1 - ((y0 + y1) / 2) / H, aar_label, rotation=90,
             ha='center', va='center', fontsize=FSV)
    t = fig.text(cx / W, 1 - 25 / H, title, ha='center', va='baseline',
                 fontsize=22, fontfamily='cmr10')
    return t


t1 = panel((57.7, 521.7, 64.7, 366.0), vostok_temperature, vostok_log_aar,
           (-16.7, 437.6), vostok_xticks, titles[0])
t2 = panel((666.7, 1132.2, 64.7, 366.0), epica_temperature, epica_log_aar,
           (-30.0, 855.0), epica_xticks, titles[1])

fig.canvas.draw()
r = fig.canvas.get_renderer()
for t in (t1, t2):
    bb = t.get_window_extent(renderer=r)
    y = 1 - 30.5 / H
    fig.add_artist(Line2D([bb.x0 / W, bb.x1 / W], [y, y], color='black', lw=1.0,
                          transform=fig.transFigure))

fig.savefig('out.png', dpi=100)
